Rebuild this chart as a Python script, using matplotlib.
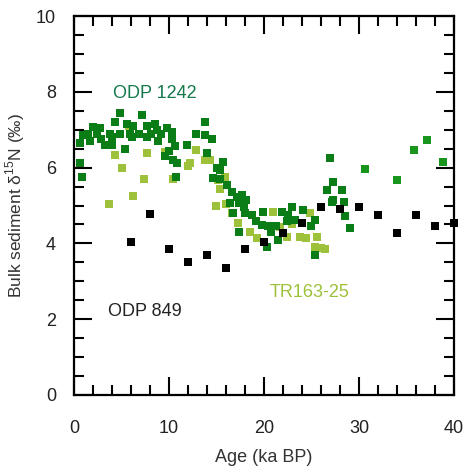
import matplotlib
matplotlib.use("Agg")
import matplotlib.pyplot as plt
from matplotlib.ticker import MultipleLocator

plt.rcParams['font.family'] = ['Liberation Sans', 'DejaVu Sans']
plt.rcParams['mathtext.fontset'] = 'custom'
plt.rcParams['mathtext.rm'] = 'Liberation Sans'

# ODP 849 (black)
odp849_age = [6, 8, 10, 12, 14, 16, 18, 20, 22, 24, 26, 28, 30, 32, 34, 36, 38, 40]
odp849_d15n = [4.05, 4.77, 3.85, 3.5, 3.7, 3.35, 3.85, 4.05, 4.27, 4.55,
               4.95, 4.9, 4.95, 4.75, 4.27, 4.75, 4.47, 4.55]

# TR163-25 (light green)
tr163_age = [3.7, 4.3, 5.1, 5.8, 6.2, 7.4, 7.7, 9.6, 10.4, 12.0, 12.2, 12.9, 13.8,
             14.3, 15.2, 15.9, 15.4, 15.0, 16.0, 16.6, 17.3, 18.5, 19.3, 20.9,
             21.7, 22.4, 23.0, 23.8, 24.4, 24.8, 25.6, 25.4, 26.4, 26.0]
tr163_d15n = [5.05, 6.33, 6.0, 7.1, 5.25, 5.7, 6.38, 6.42, 5.7, 6.05, 6.12, 6.47, 6.2,
              6.2, 5.67, 5.75, 5.45, 5.0, 5.05, 4.8, 4.55, 4.3, 4.14, 4.83,
              4.43, 4.17, 4.5, 4.17, 4.15, 4.8, 4.17, 3.9, 3.85, 3.87]

# ODP 1242 (dark green)
odp1242_age = [0.6, 0.6, 0.8, 1.0, 1.5, 1.7, 2.0, 2.4, 2.7, 2.8, 3.3, 3.8, 4.0, 4.0,
               4.3, 4.8, 4.8, 5.4, 5.6, 5.9, 6.2, 6.1, 6.9, 7.2, 7.7, 7.7, 8.1, 8.5,
               8.7, 8.8, 9.2, 9.8, 9.6, 10.0, 10.3, 10.3, 10.6, 10.4, 10.8, 10.7,
               11.9, 12.9, 13.8, 13.8, 14.5, 14.0, 15.1, 15.7, 15.4, 14.6, 15.4,
               16.1, 16.6, 17.2, 17.7, 16.4, 17.4, 18.1, 16.7, 17.9, 18.0, 18.7,
               19.9, 19.2, 19.8, 20.4, 17.4, 21.3, 21.9, 22.4, 21.5, 20.3, 20.7,
               22.9, 24.1, 22.5, 23.3, 25.4, 24.9, 21.0, 25.4, 26.9, 27.3, 26.6,
               28.2, 27.3, 28.4, 27.2, 28.5, 29.1]
odp1242_d15n = [6.65, 6.12, 5.75, 6.85, 6.9, 6.7, 7.07, 6.9, 7.05, 6.75, 6.6, 6.9, 6.8, 6.6,
                7.2, 7.44, 6.9, 6.5, 7.15, 6.9, 7.1, 6.8, 6.9, 7.39, 7.1, 6.8, 6.9, 7.15,
                7.0, 6.7, 6.9, 7.04, 6.3, 6.45, 6.95, 6.75, 6.57, 6.2, 6.13, 5.75,
                6.6, 6.9, 7.2, 6.85, 6.75, 6.4, 6.0, 6.15, 5.95, 5.73, 5.7,
                5.54, 5.35, 5.22, 5.28, 5.07, 5.07, 5.15, 4.8, 4.95, 4.8, 4.75,
                4.83, 4.6, 4.49, 4.45, 4.3, 4.45, 4.83, 4.6, 4.09, 3.9, 4.3,
                4.96, 4.88, 4.75, 4.62, 4.62, 4.45, 4.45, 3.69, 6.25, 5.62, 5.41,
                5.41, 5.15, 5.1, 5.1, 4.72, 4.42]
# later ODP 1242 points (slightly lighter green)
odp1242_late_age = [30.6, 34.0, 35.8, 37.2, 38.8]
odp1242_late_d15n = [5.97, 5.67, 6.46, 6.73, 6.15]

fig = plt.figure(figsize=(4.68, 4.74), dpi=100)
ax = fig.add_axes([0.158, 0.1667, 0.812, 0.7993])

ms = 40
ax.scatter(tr163_age, tr163_d15n, s=ms, marker='s', color='#9dc13a', linewidths=0, clip_on=False, zorder=2)
ax.scatter(odp1242_age, odp1242_d15n, s=ms, marker='s', color='#0b7d16', linewidths=0, clip_on=False, zorder=3)
ax.scatter(odp1242_late_age, odp1242_late_d15n, s=ms, marker='s', color='#17951d', linewidths=0, clip_on=False, zorder=3)
ax.scatter(odp849_age, odp849_d15n, s=ms, marker='s', color='black', linewidths=0, clip_on=False, zorder=4)

ax.text(8.5, 7.97, 'ODP 1242', color='#15794c', fontsize=13, ha='center', va='center')
ax.text(7.5, 2.2, 'ODP 849', color='#222222', fontsize=13, ha='center', va='center')
ax.text(24.8, 2.7, 'TR163-25', color='#9dc13a', fontsize=13, ha='center', va='center')

ax.set_xlim(0, 40)
ax.set_ylim(0, 10)
ax.xaxis.set_major_locator(MultipleLocator(10))
ax.xaxis.set_minor_locator(MultipleLocator(2))
ax.yaxis.set_major_locator(MultipleLocator(2))
ax.yaxis.set_minor_locator(MultipleLocator(0.5))
ax.tick_params(which='both', direction='in', top=True, right=True, width=1.5, colors='black')
ax.tick_params(which='major', length=13, labelsize=13, labelcolor='#222222')
ax.tick_params(axis='x', which='major', pad=18)
ax.tick_params(axis='y', which='major', pad=13)
ax.tick_params(which='minor', length=7)
for s in ax.spines.values():
    s.set_linewidth(1.6)

ax.set_xlabel('Age (ka BP)', fontsize=13, color='#333333', labelpad=9)
ax.set_ylabel('Bulk sediment δ$^{15}$N (‰)', fontsize=12.5, color='#333333', labelpad=6)

fig.savefig('out.png', dpi=100)
